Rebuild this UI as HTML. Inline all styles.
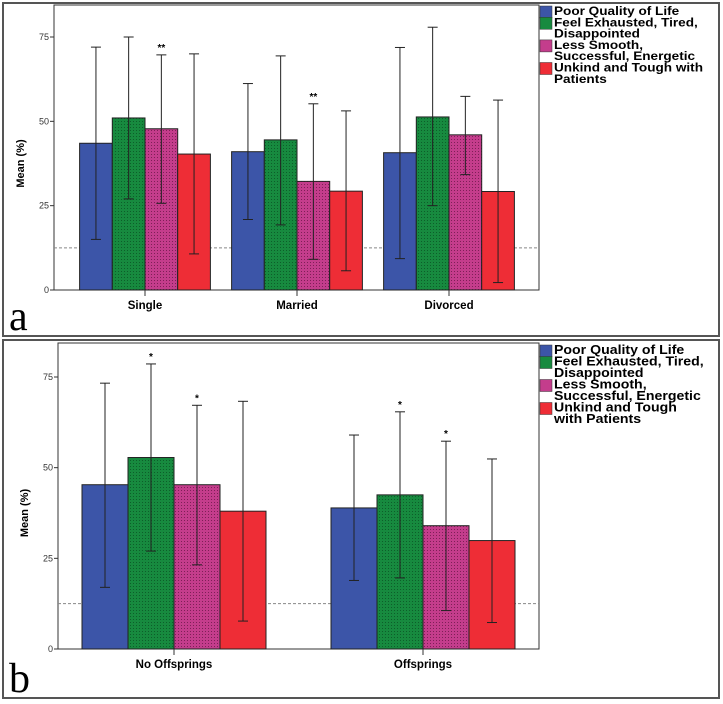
<!DOCTYPE html>
<html><head><meta charset="utf-8"><style>
body{margin:0;background:#fff;}
svg{display:block;font-family:"Liberation Sans",Arial,sans-serif;}
</style></head><body>
<svg id="c" width="723" height="704" viewBox="0 0 723 704" xmlns="http://www.w3.org/2000/svg">
<defs>
<pattern id="dotsG" width="3" height="3" patternUnits="userSpaceOnUse"><rect width="3" height="3" fill="#178a3f"/><rect x="1" y="1" width="1" height="1" fill="#0d5e2a"/></pattern>
<pattern id="dotsP" width="3" height="3" patternUnits="userSpaceOnUse"><rect width="3" height="3" fill="#c43d8c"/><rect x="1" y="1" width="1" height="1" fill="#7e1f57"/></pattern>
</defs>
</svg>
<script>
const seriesNames=["Poor Quality of Life","Feel Exhausted, Tired, Disappointed","Less Smooth, Successful, Energetic","Unkind and Tough with Patients"];
const catsA=["Single","Married","Divorced"];
const meanA=[[43.5,51,47.8,40.3],[41,44.5,32.2,29.3],[40.7,51.3,46,29.2]];
const lowA=[[15,27,25.7,10.7],[20.9,19.3,9.1,5.7],[9.3,25,34.2,2.2]];
const highA=[[72,75,69.7,70],[61.2,69.4,55.2,53.1],[71.9,77.9,57.4,56.3]];
const starsA=[["","","**",""],["","","**",""],["","","",""]];
const catsB=["No Offsprings","Offsprings"];
const meanB=[[45.3,52.8,45.3,38],[38.9,42.5,34,29.9]];
const lowB=[[17,27,23.2,7.7],[18.9,19.6,10.6,7.3]];
const highB=[[73.3,78.6,67.2,68.3],[59,65.4,57.3,52.4]];
const starsB=[["","*","*",""],["","*","*",""]];
const yTicks=[0,25,50,75];
const refLine=12.5;

const svg=document.getElementById('c');
const NS='http://www.w3.org/2000/svg';
function mk(t,a,txt){const e=document.createElementNS(NS,t);for(const k in a)e.setAttribute(k,a[k]);if(txt!==undefined)e.textContent=txt;svg.appendChild(e);return e;}
const fills=["#3c55a8","url(#dotsG)","url(#dotsP)","#ee2d36"];
const legFills=["#3c55a8","#178a3f","#c43d8c","#ee2d36"];

function panel(p){
  let e;
  e=mk('rect',{x:p.bx,y:p.by,width:p.bw,height:p.bh,fill:'none',stroke:'#555','stroke-width':2});
  
  const y=v=>p.y0-(p.y0-p.y75)*v/75;
  e=mk('rect',{x:p.px,y:p.py,width:p.pr-p.px,height:y(0)-p.py,fill:'none',stroke:'#333','stroke-width':1});
  
  yTicks.forEach(t=>{
    e=mk('line',{x1:p.px-4,x2:p.px,y1:y(t),y2:y(t),stroke:'#333'});
    
    e=mk('text',{x:p.px-5,y:y(t)+3,'font-size':9,'text-anchor':'end',fill:'#333'},String(t));
    
  });
  e=mk('text',{x:0,y:0,'font-size':11,'font-weight':'bold','text-anchor':'middle',transform:`translate(${p.px-30},${(y(0)+y(75))/2}) rotate(-90)`},'Mean (%)');
  
  e=mk('line',{x1:p.px,x2:p.pr,y1:y(refLine),y2:y(refLine),stroke:'#888','stroke-dasharray':'3,2'});
  
  p.cats.forEach((c,i)=>{
    const cx=p.c0+i*p.gap;
    p.mean[i].forEach((m,j)=>{
      const x=cx-2*p.w+j*p.w;
      e=mk('rect',{x:x,y:y(m),width:p.w,height:y(0)-y(m),fill:fills[j],stroke:'#222','stroke-width':1});
      
      const mx=x+p.w/2;
      e=mk('line',{x1:mx,x2:mx,y1:y(p.high[i][j]),y2:y(p.low[i][j]),stroke:'#222'});
      
      [p.high[i][j],p.low[i][j]].forEach(v=>{
        e=mk('line',{x1:mx-5,x2:mx+5,y1:y(v),y2:y(v),stroke:'#222'});
        
      });
      if(p.stars[i][j]){
        e=mk('text',{x:mx,y:y(p.high[i][j])-4,'font-size':10,'font-weight':'bold','text-anchor':'middle'},p.stars[i][j]);
        
      }
    });
    e=mk('line',{x1:cx,x2:cx,y1:y(0),y2:y(0)+6,stroke:'#333'});
    
    e=mk('text',{x:cx,y:y(0)+19,'font-size':11.5,'font-weight':'bold','text-anchor':'middle'},c);
    
  });
  const lines=p.legLines;let ly=p.ly;
  lines.forEach((ls,j)=>{
    e=mk('rect',{x:p.pr+1,y:ly+2,width:12,height:12,fill:legFills[j],stroke:'#333','stroke-width':0.5});
    
    ls.forEach((t,k)=>{
      e=mk('text',{x:p.pr+15,y:ly+11+k*p.lh,'font-size':p.lfs,'font-weight':'bold'},t);
      
      const L=e.getComputedTextLength();
      if(L>0){e.setAttribute('textLength',L*p.stretch);e.setAttribute('lengthAdjust','spacingAndGlyphs');}
    });
    ly+=ls.length*p.lh;
  });
  e=mk('text',{x:p.bx+6,y:p.by+p.bh-6,'font-size':42,'font-family':'Liberation Serif, serif'},p.letter);
  
}
panel({id:'a',bx:3,by:3,bw:716,bh:333,px:54,py:5,pr:539,y0:290,y75:37,
  cats:catsA,mean:meanA,low:lowA,high:highA,stars:starsA,c0:145,gap:152,w:32.7,
  legLines:[["Poor Quality of Life"],["Feel Exhausted, Tired,","Disappointed"],["Less Smooth,","Successful, Energetic"],["Unkind and Tough with","Patients"]],
  ly:4,lh:11.3,lfs:11.5,stretch:1.18,letter:'a'});
panel({id:'b',bx:3,by:340,bw:716,bh:358,px:58,py:343,pr:539,y0:649,y75:377,
  cats:catsB,mean:meanB,low:lowB,high:highB,stars:starsB,c0:174,gap:249,w:46,
  legLines:[["Poor Quality of Life"],["Feel Exhausted, Tired,","Disappointed"],["Less Smooth,","Successful, Energetic"],["Unkind and Tough","with Patients"]],
  ly:343,lh:11.5,lfs:12.5,stretch:1.13,letter:'b'});
</script>
</body></html>
